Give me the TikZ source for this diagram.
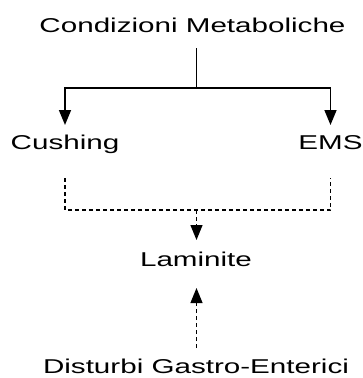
\documentclass[tikz,border=0pt]{standalone}
\usepackage{fontspec}
\setmainfont{Liberation Sans}
\usetikzlibrary{arrows.meta}
\newcommand{\wide}[1]{\scalebox{1.48}[1]{#1}}
\tikzset{
  lbl/.style={inner sep=0pt,outer sep=0pt,text height=14.5pt,text depth=0pt,anchor=base,font=\fontsize{20}{24}\selectfont},
  solidline/.style={line width=1.6pt,-{Triangle[length=15pt,width=12pt]}},
  dashline/.style={line width=1.2pt,dash pattern=on 4pt off 3pt,-{Triangle[length=15pt,width=12pt]}}
}
\begin{document}
\begin{tikzpicture}[x=1pt,y=1pt]
			\useasboundingbox (0,0) rectangle (362,-378) ;
			\node[lbl] (meta) at (192.5,-32.5) {\wide{Condizioni Metaboliche}} ;
			\node[lbl] (cush) at (65,-149.5) {\wide{Cushing}} ;
			\node[lbl] (ems) at (330.5,-149.5) {\wide{EMS}} ;
			\node[lbl] (lam) at (196,-266.5) {\wide{Laminite}} ;
			\node[lbl] (dist) at (196,-373) {\wide{Disturbi Gastro-Enterici}} ;
			\coordinate (split) at (196.5,-88) ;
			\coordinate (merge) at (196.5,-210) ;
			% solid part
			\draw[line width=1.6pt,shorten <=15.5pt] (meta.south -| split)--(split) ;
			\draw[solidline,shorten >=10pt] (split) -| (cush.north) ;
			\draw[solidline,shorten >=10pt] (split) -| (ems.north) ;
			% dashed part
			\draw[line width=1.2pt,dash pattern=on 4pt off 3pt,shorten <=28.5pt,shorten >=28.5pt] (cush.south) |- (merge) -| (ems.south) ;
			\draw[dashline,shorten >=12pt] (merge)--(merge |- lam.north) ;
			\draw[dashline,shorten <=10.5pt,shorten >=21.5pt] (dist.north -| merge)--(merge |- lam.south) ;
		\end{tikzpicture}
\end{document}
